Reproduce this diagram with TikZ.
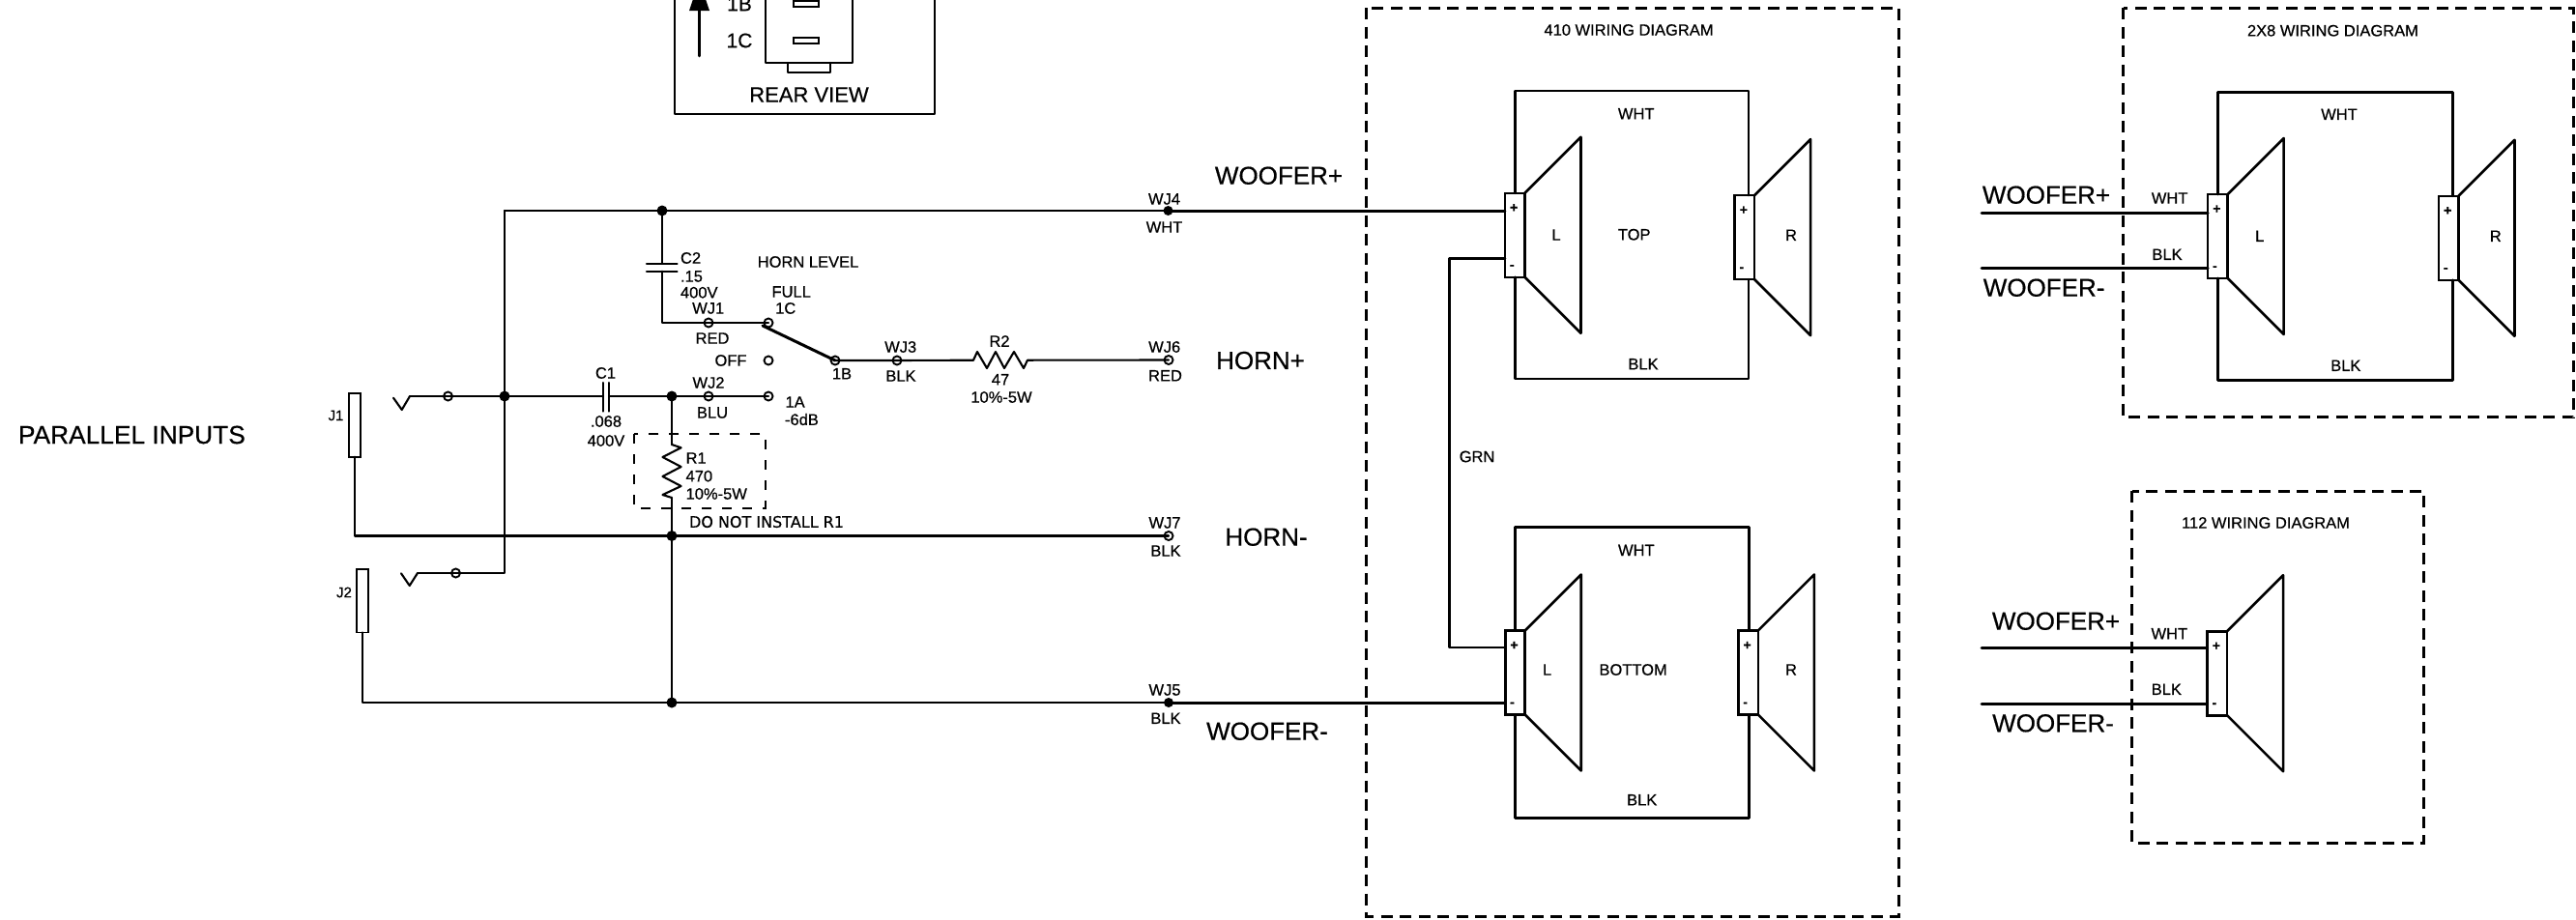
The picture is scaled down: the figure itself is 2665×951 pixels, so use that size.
\documentclass[tikz,border=0pt]{standalone}
\usepackage{fontspec}
\setmainfont{Liberation Sans}[RawFeature={embolden=0.5}]
\newfontfamily\dvfont{DejaVu Sans}[RawFeature={embolden=0.4}]
\tikzset{
  lbl/.style={inner sep=0pt,outer sep=0pt,font=\fontsize{16.5}{18}\selectfont},
  biglbl/.style={inner sep=0pt,outer sep=0pt,font=\fontsize{26}{28}\selectfont},
  signlbl/.style={inner sep=0pt,outer sep=0pt,font=\bfseries\fontsize{14}{16}\selectfont},
  wire/.style={line width=2.1pt,line cap=round,line join=round},
  thickwire/.style={line width=3pt,line cap=round,line join=round},
  pinhole/.style={circle,draw,line width=1.9pt,fill=none,minimum size=9pt,inner sep=0pt,outer sep=0pt},
  junction/.style={circle,fill=black,minimum size=11pt,inner sep=0pt,outer sep=0pt},
  jackbox/.style={rectangle,draw,line width=1.9pt,minimum width=12pt,minimum height=65.5pt,inner sep=0pt,outer sep=0pt},
  termbox/.style={rectangle,draw,line width=2.6pt,minimum width=20.5pt,minimum height=87pt,inner sep=0pt,outer sep=0pt},
  conesh/.style={line width=2.6pt,line join=round,line cap=round},
  bigdash/.style={line width=3pt,dash pattern=on 12pt off 7.5pt},
  smalldash/.style={line width=2pt,dash pattern=on 10pt off 11pt},
}
% name, terminal centre x, terminal centre y
\newcommand{\spkr}[3]{%
  \node[termbox] (#1) at (#2,#3) {};
  \draw[conesh] (#1.north east) -- ++(58,-58) -- ++(0,203) -- (#1.south east);
  \node[signlbl] (#1plus) at (#2-1,#3-28) {+};
  \node[signlbl] (#1minus) at (#2-3,#3+33) {-};
}
\begin{document}
\begin{tikzpicture}[x=1pt,y=-1pt]
\useasboundingbox (0,0) rectangle (2665,951);

% ---- rear view of the switch
\coordinate (rvTL) at (698,-10);
\coordinate (rvBR) at (967,118);
\draw[wire] (rvTL) |- (rvBR) -- (rvBR |- rvTL);
\coordinate (swTL) at (792,-10);
\coordinate (swBR) at (882,65);
\draw[wire] (swTL) |- (swBR) -- (swBR |- swTL);
\draw[wire] (815,65) |- (859,75) -- (859,65);
\draw[line width=1.8pt] (821,1) rectangle (847,7);
\draw[line width=1.8pt] (821,39) rectangle (847,45);
\draw[line width=2.6pt,line cap=round] (723.5,58) -- (723.5,10);
\fill (713,11) -- (734,11) -- (723.5,-20) -- cycle;
\node[lbl,font=\fontsize{21}{22}\selectfont] (t1B) at (765,4) {1B};
\node[lbl,font=\fontsize{21}{22}\selectfont] (t1C) at (765,42) {1C};
\node[lbl,font=\fontsize{22}{24}\selectfont] (trear) at (837,98) {REAR VIEW};

% ---- junctions and pins
\node[junction] (jTop) at (685,218) {};
\node[junction] (jIn) at (522,410) {};
\node[junction] (jR1) at (695,410) {};
\node[junction] (jH) at (695,554.5) {};
\node[junction] (jW) at (695,727) {};
\node[pinhole] (pJ1) at (463.5,410) {};
\node[pinhole] (pJ2) at (471.5,593) {};
\node[pinhole] (pWJ1) at (733,334) {};
\node[pinhole] (pWJ2) at (733,410) {};
\node[pinhole] (p1C) at (795,334) {};
\node[pinhole] (pOFF) at (795,373) {};
\node[pinhole] (p1A) at (795,410) {};
\node[pinhole] (p1B) at (864,373) {};
\node[pinhole] (pWJ3) at (928,373) {};
\node[pinhole] (pWJ6) at (1209,372.5) {};
\node[pinhole] (pWJ7) at (1209,554.5) {};
\node[junction,minimum size=10pt] (pWJ4) at (1208.5,218) {};
\node[junction,minimum size=10pt] (pWJ5) at (1209,727) {};
\node[jackbox] (J1) at (367.2,440) {};
\node[jackbox] (J2) at (374.7,621.7) {};

% ---- jack tips
\coordinate (tipA) at (424,410);
\coordinate (tipB) at (432,593);
\coordinate (cornerJ2) at (522,593);
\coordinate (topLeft) at (522,218);
\draw[wire] (407,411.7) -- (415.7,424) -- (tipA);
\draw[wire] (415,593.3) -- (423.7,606) -- (tipB);

% ---- capacitors and resistors
\coordinate (c1a) at (624,410);
\coordinate (c1b) at (630,410);
\draw[wire] (624,396) -- (624,425.7);
\draw[wire] (630,396) -- (630,425.7);
\coordinate (c2a) at (685,272.7);
\coordinate (c2b) at (685,280.7);
\draw[wire] (669,272.7) -- (700.5,272.7);
\draw[wire] (669,280.7) -- (700.5,280.7);
\coordinate (r1a) at (695,460);
\coordinate (r1b) at (695,515);
\draw[wire] (r1a) -- (704.6,463.3) -- (685.5,473) -- (704.6,483) -- (685.5,493) -- (704.6,503) -- (685.5,512) -- (r1b);
\coordinate (r2a) at (1007,372.7);
\coordinate (r2b) at (1063,372.7);
\draw[wire] (r2a) -- (1011,364) -- (1021,381) -- (1030,364) -- (1039,381) -- (1049,364) -- (1059,381) -- (r2b);

% ---- circuit wiring
\draw[wire] (topLeft) -- (jTop.center);
\draw[wire] (topLeft) -- (jIn.center) -- (cornerJ2) -- (pJ2.center) -- (tipB);
\draw[wire] (tipA) -- (pJ1.center) -- (jIn.center) -- (c1a);
\draw[wire] (c1b) -- (jR1.center) -- (pWJ2.center) -- (p1A.center);
\draw[wire] (jR1.center) -- (r1a);
\draw[wire] (r1b) -- (jH.center) -- (jW.center);
\draw[wire] (jTop.center) -- (c2a);
\draw[wire] (c2b) |- (pWJ1.center) -- (p1C.center);
\draw[thickwire] (789,337) -- (p1B.center);
\draw[wire] (p1B.center) -- (pWJ3.center) -- (r2a);
\draw[wire] (r2b) -- (pWJ6.center);
\draw[wire] (J1.south) |- (jH.center) -- (pWJ7.center);
\draw[wire] (J2.south) |- (jW.center) -- (pWJ5.center);
\draw[wire] (jTop.center) -- (pWJ4.center);
\draw[smalldash] (656,449) rectangle (791.5,525.7);

% ---- circuit labels
\node[lbl,anchor=west] (tParallel) at (19,450) {\fontsize{26.3}{28}\selectfont PARALLEL INPUTS};
\node[lbl] (tJ1) at (347.5,430) {\fontsize{15}{16}\selectfont J1};
\node[lbl] (tJ2) at (356,613) {\fontsize{15}{16}\selectfont J2};
\node[lbl] (tC1) at (626.5,386) {C1};
\node[lbl] (tC1v) at (627,436) {.068};
\node[lbl] (tC1w) at (627,456) {400V};
\node[lbl,anchor=west] (tC2) at (704,267) {C2};
\node[lbl,anchor=west] (tC2v) at (704,286) {.15};
\node[lbl,anchor=west] (tC2w) at (704,302.7) {400V};
\node[lbl] (tHL) at (836,271) {HORN LEVEL};
\node[lbl] (tWJ1) at (732.7,319) {WJ1};
\node[lbl] (tRED) at (737,350) {RED};
\node[lbl] (tFULL) at (818.7,302) {FULL};
\node[lbl] (tC) at (812.7,319) {1C};
\node[lbl] (tOFF) at (756,373) {OFF};
\node[lbl] (tB) at (871,386.7) {1B};
\node[lbl] (tWJ3) at (931.7,359) {WJ3};
\node[lbl] (tBLK3) at (932,389) {BLK};
\node[lbl] (tR2) at (1034,353) {R2};
\node[lbl] (tR2v) at (1035,392.7) {47};
\node[lbl] (tR2w) at (1036,411) {10\%-5W};
\node[lbl] (tWJ2) at (733,396) {WJ2};
\node[lbl] (tBLU) at (737,427) {BLU};
\node[lbl,anchor=west] (tA) at (812.5,416) {1A};
\node[lbl,anchor=west] (tdB) at (812,434) {-6dB};
\node[lbl,anchor=west] (tR1) at (709.6,474) {R1};
\node[lbl,anchor=west] (tR1v) at (709.6,492.7) {470};
\node[lbl,anchor=west] (tR1w) at (709.6,511) {10\%-5W};
\node[lbl,anchor=west] (tDNI) at (713,540) {\dvfont\fontsize{16}{18}\selectfont DO NOT INSTALL R1};
\node[lbl] (tWJ4) at (1204.5,206) {WJ4};
\node[lbl] (tWHT4) at (1204.5,235) {WHT};
\node[lbl] (tWJ6) at (1204.7,359) {WJ6};
\node[lbl] (tRED6) at (1205.5,388.7) {RED};
\node[lbl] (tWJ7) at (1205,541) {WJ7};
\node[lbl] (tBLK7) at (1206,570) {BLK};
\node[lbl] (tWJ5) at (1205,714) {WJ5};
\node[lbl] (tBLK5) at (1206,743.3) {BLK};
\node[biglbl] (tWp) at (1323,181.7) {WOOFER+};
\node[biglbl] (tHp) at (1304,373) {HORN+};
\node[biglbl] (tHm) at (1310,555.7) {HORN-};
\node[biglbl] (tWm) at (1311,756.7) {WOOFER-};

% ---- 410 cabinet
\draw[bigdash] (1413,8) rectangle (1964,948);
\node[lbl] (t410) at (1685,31) {410 WIRING DIAGRAM};
\spkr{topL}{1567.2}{243.3}
\spkr{topR}{1804.8}{245.6}
\coordinate (topFrame) at (1809,94);
\coordinate (topFrameB) at (1809,392);
\draw[wire,line width=2.6pt] (topL.north) |- (topFrame) -- (topFrame |- topR.north);
\draw[wire,line width=2.6pt] (topL.south) |- (topFrameB) -- (topFrameB |- topR.south);
\node[lbl] (tL1) at (1610,243) {L};
\node[lbl] (tR1c) at (1853,243.3) {R};
\node[lbl] (tTOP) at (1690.7,242.7) {TOP};
\node[lbl] (tW1) at (1692.7,117.7) {WHT};
\node[lbl] (tB1) at (1700,376.7) {BLK};

\spkr{botL}{1567.5}{696}
\spkr{botR}{1808.6}{696}
\coordinate (botFrame) at (1809.5,545.6);
\coordinate (botFrameB) at (1809.5,846.7);
\draw[wire,line width=2.6pt] (botL.north) |- (botFrame) -- (botFrame |- botR.north);
\draw[wire,line width=2.6pt] (botL.south) |- (botFrameB) -- (botFrameB |- botR.south);
\node[lbl] (tL2) at (1600.6,693) {L};
\node[lbl] (tR2c) at (1853,693) {R};
\node[lbl] (tBOT) at (1689.6,693) {BOTTOM};
\node[lbl] (tW2) at (1692.8,569.4) {WHT};
\node[lbl] (tB2) at (1698.7,827.7) {BLK};

\coordinate (grnA) at (1557,267.5);
\coordinate (grnB) at (1557.3,670);
\coordinate (grnX) at (1499.5,470);
\draw[wire,line width=2.6pt] (grnA) -| (grnX) |- (grnB);
\node[lbl] (tGRN) at (1528,472.5) {GRN};
\draw[thickwire] (pWJ4.center) -- (topL.west |- pWJ4.center);
\draw[thickwire] (pWJ5.center) -- (botL.west |- pWJ5.center);

% ---- 2X8 cabinet
\draw[bigdash] (2196.8,8.3) rectangle (2662.8,431.7);
\node[lbl] (t2x8) at (2413.4,31.7) {2X8 WIRING DIAGRAM};
\spkr{twoL}{2294.4}{244.5}
\spkr{twoR}{2533.2}{246.3}
\coordinate (twoFrame) at (2537.3,95.7);
\coordinate (twoFrameB) at (2537.3,393.3);
\draw[wire,line width=2.6pt] (twoL.north) |- (twoFrame) -- (twoFrame |- twoR.north);
\draw[wire,line width=2.6pt] (twoL.south) |- (twoFrameB) -- (twoFrameB |- twoR.south);
\node[lbl] (tL3) at (2337.7,244.3) {L};
\node[lbl] (tR3c) at (2581.8,244.3) {R};
\node[lbl] (tW3) at (2420,118.3) {WHT};
\node[lbl] (tB3) at (2426.8,378.3) {BLK};
\coordinate (twoP) at (2050,220);
\coordinate (twoM) at (2050,277.3);
\draw[thickwire] (twoP) -- (twoL.west |- twoP);
\draw[thickwire] (twoM) -- (twoL.west |- twoM);
\node[lbl] (tW3b) at (2244.6,205) {WHT};
\node[lbl] (tB3b) at (2242,263.3) {BLK};
\node[biglbl] (tWp2) at (2117,201.7) {WOOFER+};
\node[biglbl] (tWm2) at (2114.6,297.7) {WOOFER-};

% ---- 112 cabinet
\draw[bigdash] (2205.7,508.3) rectangle (2507.7,872.7);
\node[lbl] (t112) at (2344,541) {112 WIRING DIAGRAM};
\spkr{oneL}{2293.8}{696.7}
\coordinate (oneP) at (2050,670.7);
\coordinate (oneM) at (2050,728.3);
\draw[thickwire] (oneP) -- (oneL.west |- oneP);
\draw[thickwire] (oneM) -- (oneL.west |- oneM);
\node[lbl] (tW4b) at (2244.3,655.7) {WHT};
\node[lbl] (tB4b) at (2241.3,713.3) {BLK};
\node[biglbl] (tWp3) at (2127,642.7) {WOOFER+};
\node[biglbl] (tWm3) at (2124,748.3) {WOOFER-};
\end{tikzpicture}
\end{document}
